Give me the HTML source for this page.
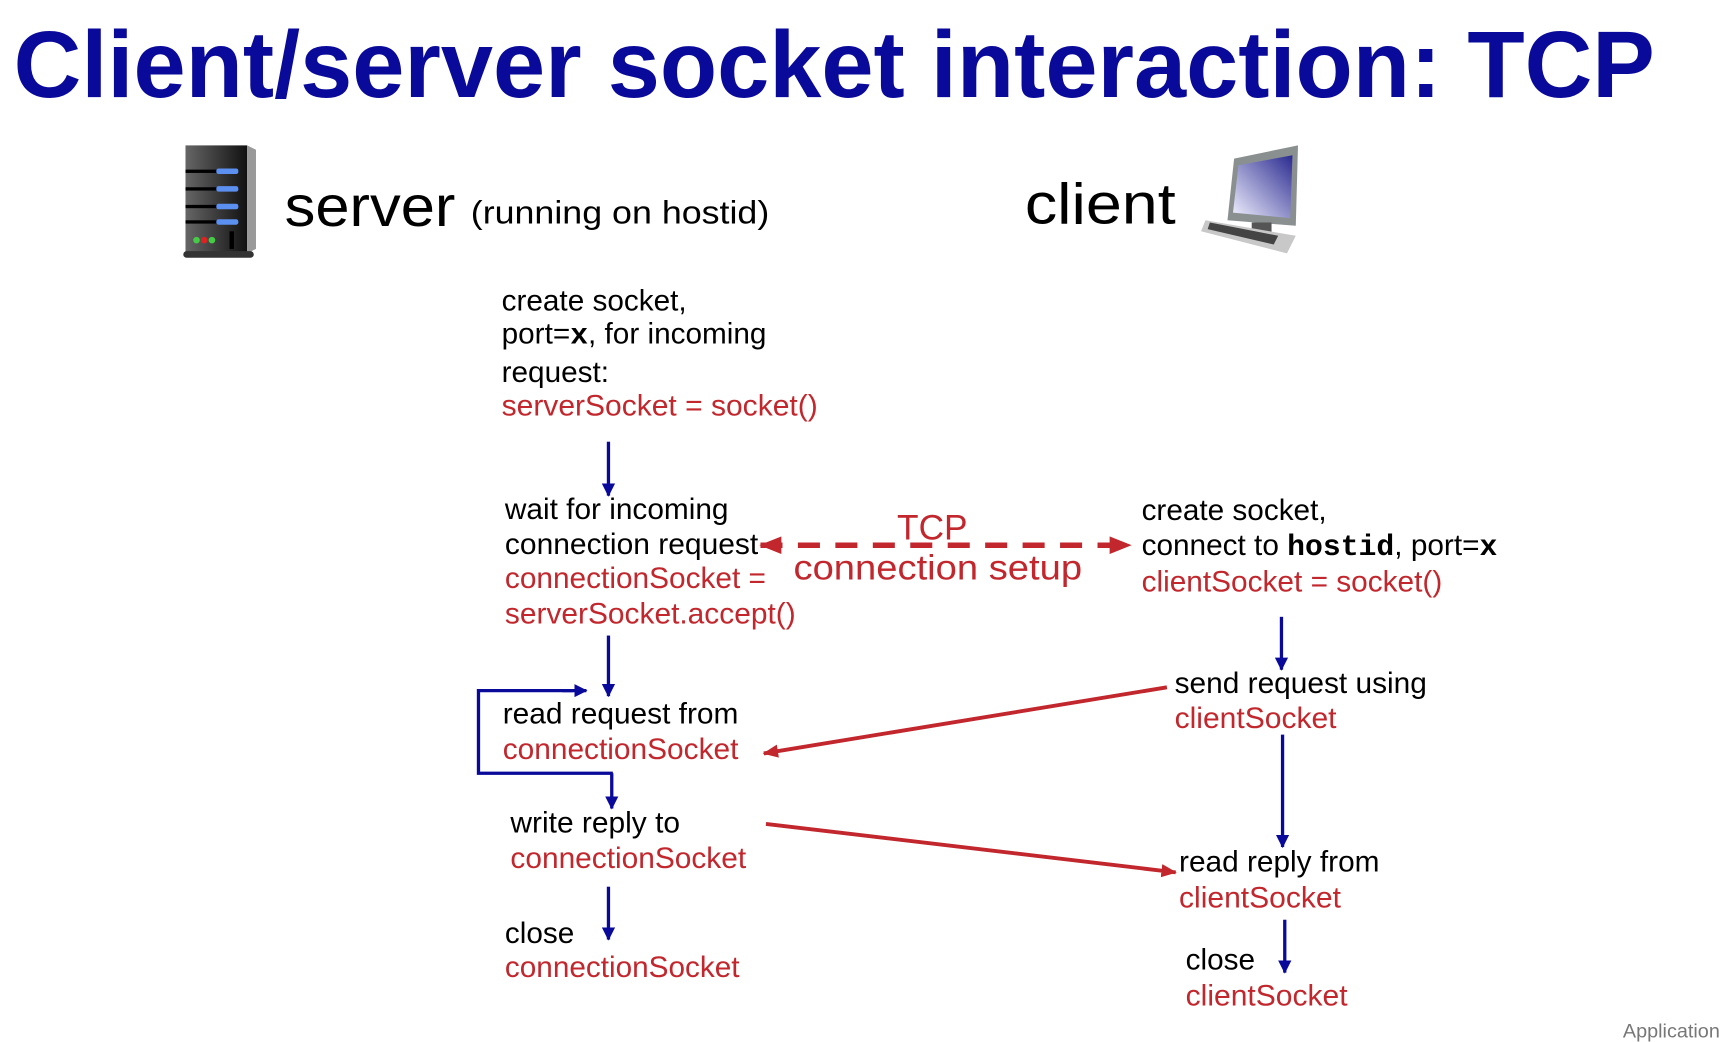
<!DOCTYPE html>
<html><head><meta charset="utf-8"><style>
html,body{margin:0;padding:0;background:#fff;overflow:hidden}
svg{display:block}
text{font-family:"Liberation Sans",Arial,sans-serif}
.b{fill:#000;font-size:27px}
.r{fill:#c1272d;font-size:27px}
.m{font-family:"Liberation Mono",monospace;font-weight:bold}
</style></head><body>
<svg width="1728" height="1042" viewBox="0 0 1568 946" xmlns="http://www.w3.org/2000/svg">
<defs>
<marker id="ab" markerWidth="12" markerHeight="12" refX="11" refY="6" orient="auto" markerUnits="userSpaceOnUse"><path d="M0,0 L12,6 L0,12 z" fill="#0a0a9a"/></marker>
<marker id="ar" markerWidth="14" markerHeight="12" refX="13" refY="6" orient="auto" markerUnits="userSpaceOnUse"><path d="M0,0 L14,6 L0,12 z" fill="#c1272d"/></marker>
<marker id="ar2" markerWidth="20" markerHeight="16" refX="19" refY="8" orient="auto-start-reverse" markerUnits="userSpaceOnUse"><path d="M0,0 L20,8 L0,16 z" fill="#c1272d"/></marker>
<linearGradient id="scr" x1="1" y1="0" x2="0" y2="1"><stop offset="0" stop-color="#2a2a90"/><stop offset="1" stop-color="#f0f0ff"/></linearGradient>
<linearGradient id="srv" x1="0" x2="1"><stop offset="0" stop-color="#666"/><stop offset="1" stop-color="#111"/></linearGradient>
</defs>
<text x="12" y="88" font-size="86" font-weight="bold" fill="#0a0a9a" textLength="1490" lengthAdjust="spacingAndGlyphs">Client/server socket interaction: TCP</text>

<rect x="168" y="132" width="56" height="98" fill="url(#srv)"/>
<polygon points="224,132 232,136 232,226 224,230" fill="#999"/>
<rect x="168" y="154" width="48" height="3" fill="#000"/><rect x="196" y="153" width="20" height="5" rx="2" fill="#5b8ff0"/>
<rect x="168" y="170" width="48" height="3" fill="#000"/><rect x="196" y="169" width="20" height="5" rx="2" fill="#5b8ff0"/>
<rect x="168" y="186" width="48" height="3" fill="#000"/><rect x="196" y="185" width="20" height="5" rx="2" fill="#5b8ff0"/>
<rect x="168" y="200" width="48" height="3" fill="#000"/><rect x="196" y="199" width="20" height="5" rx="2" fill="#5b8ff0"/>
<rect x="208" y="210" width="4" height="16" fill="#000"/>
<circle cx="178" cy="218" r="3" fill="#4c4"/><circle cx="185" cy="218" r="3" fill="#d22"/><circle cx="192" cy="218" r="3" fill="#4c4"/>
<rect x="166" y="228" width="64" height="6" rx="3" fill="#333"/>
<text x="258" y="205" font-size="52" fill="#000" textLength="155" lengthAdjust="spacingAndGlyphs">server</text>
<text x="427" y="203" font-size="29" fill="#000" textLength="271" lengthAdjust="spacingAndGlyphs">(running on hostid)</text>
<text x="930" y="203" font-size="52" fill="#000" textLength="137" lengthAdjust="spacingAndGlyphs">client</text>
<polygon points="1120,144 1178,132 1176,205 1114,200" fill="#8a9090"/>
<polygon points="1124,150 1173,141 1171,198 1119,193" fill="url(#scr)"/>
<rect x="1136" y="202" width="18" height="14" fill="#555"/>
<polygon points="1094,200 1176,214 1168,230 1090,210" fill="#c8c8c8"/>
<polygon points="1098,202 1160,214 1156,222 1096,208" fill="#444"/>

<text class="b" x="455" y="282" textLength="168" lengthAdjust="spacingAndGlyphs">create socket,</text>
<text class="b" x="455" y="312">port=<tspan class="m">x</tspan>, for incoming</text>
<text class="b" x="455" y="347">request:</text>
<text class="r" x="455" y="377" textLength="287" lengthAdjust="spacingAndGlyphs">serverSocket = socket()</text>
<line x1="552" y1="401" x2="552" y2="450" stroke="#0a0a9a" stroke-width="3" marker-end="url(#ab)"/>

<text class="b" x="458" y="471" textLength="203" lengthAdjust="spacingAndGlyphs">wait for incoming</text>
<text class="b" x="458" y="503" textLength="230" lengthAdjust="spacingAndGlyphs">connection request</text>
<text class="r" x="458" y="534" textLength="237" lengthAdjust="spacingAndGlyphs">connectionSocket =</text>
<text class="r" x="458" y="566" textLength="264" lengthAdjust="spacingAndGlyphs">serverSocket.accept()</text>
<line x1="552" y1="577" x2="552" y2="632" stroke="#0a0a9a" stroke-width="3" marker-end="url(#ab)"/>

<line x1="690" y1="495" x2="1026" y2="495" stroke="#c1272d" stroke-width="5" stroke-dasharray="20,14" marker-start="url(#ar2)" marker-end="url(#ar2)"/>
<text x="846" y="490" font-size="32" fill="#c1272d" text-anchor="middle">TCP</text>
<text x="720" y="526" font-size="32" fill="#c1272d" textLength="262" lengthAdjust="spacingAndGlyphs">connection setup</text>

<polyline points="520,627 434,627 434,702 556,702" fill="none" stroke="#0a0a9a" stroke-width="3"/>
<line x1="510" y1="627" x2="532" y2="627" stroke="#0a0a9a" stroke-width="3" marker-end="url(#ab)"/>
<line x1="555" y1="702" x2="555" y2="734" stroke="#0a0a9a" stroke-width="3" marker-end="url(#ab)"/>
<text class="b" x="456" y="657" textLength="214" lengthAdjust="spacingAndGlyphs">read request from</text>
<text class="r" x="456" y="689" textLength="214" lengthAdjust="spacingAndGlyphs">connectionSocket</text>
<text class="b" x="463" y="756" textLength="154" lengthAdjust="spacingAndGlyphs">write reply to</text>
<text class="r" x="463" y="788" textLength="214" lengthAdjust="spacingAndGlyphs">connectionSocket</text>
<line x1="552" y1="805" x2="552" y2="853" stroke="#0a0a9a" stroke-width="3" marker-end="url(#ab)"/>
<text class="b" x="458" y="856">close</text>
<text class="r" x="458" y="887" textLength="213" lengthAdjust="spacingAndGlyphs">connectionSocket</text>

<text class="b" x="1036" y="472" textLength="168" lengthAdjust="spacingAndGlyphs">create socket,</text>
<text class="b" x="1036" y="504" textLength="323" lengthAdjust="spacingAndGlyphs">connect to <tspan class="m">hostid</tspan>, port=<tspan class="m">x</tspan></text>
<text class="r" x="1036" y="537" textLength="273" lengthAdjust="spacingAndGlyphs">clientSocket = socket()</text>
<line x1="1163" y1="560" x2="1163" y2="608" stroke="#0a0a9a" stroke-width="3" marker-end="url(#ab)"/>
<text class="b" x="1066" y="629" textLength="229" lengthAdjust="spacingAndGlyphs">send request using</text>
<text class="r" x="1066" y="661" textLength="147" lengthAdjust="spacingAndGlyphs">clientSocket</text>
<line x1="1059" y1="624" x2="693" y2="684" stroke="#c1272d" stroke-width="3.5" marker-end="url(#ar)"/>
<line x1="1164" y1="667" x2="1164" y2="769" stroke="#0a0a9a" stroke-width="3" marker-end="url(#ab)"/>
<line x1="695" y1="748" x2="1067" y2="792" stroke="#c1272d" stroke-width="3.5" marker-end="url(#ar)"/>
<text class="b" x="1070" y="791" textLength="182" lengthAdjust="spacingAndGlyphs">read reply from</text>
<text class="r" x="1070" y="824" textLength="147" lengthAdjust="spacingAndGlyphs">clientSocket</text>
<line x1="1166" y1="835" x2="1166" y2="883" stroke="#0a0a9a" stroke-width="3" marker-end="url(#ab)"/>
<text class="b" x="1076" y="880">close</text>
<text class="r" x="1076" y="913" textLength="147" lengthAdjust="spacingAndGlyphs">clientSocket</text>

<text x="1473" y="942" font-size="18" fill="#777">Application</text>
</svg>
</body></html>
